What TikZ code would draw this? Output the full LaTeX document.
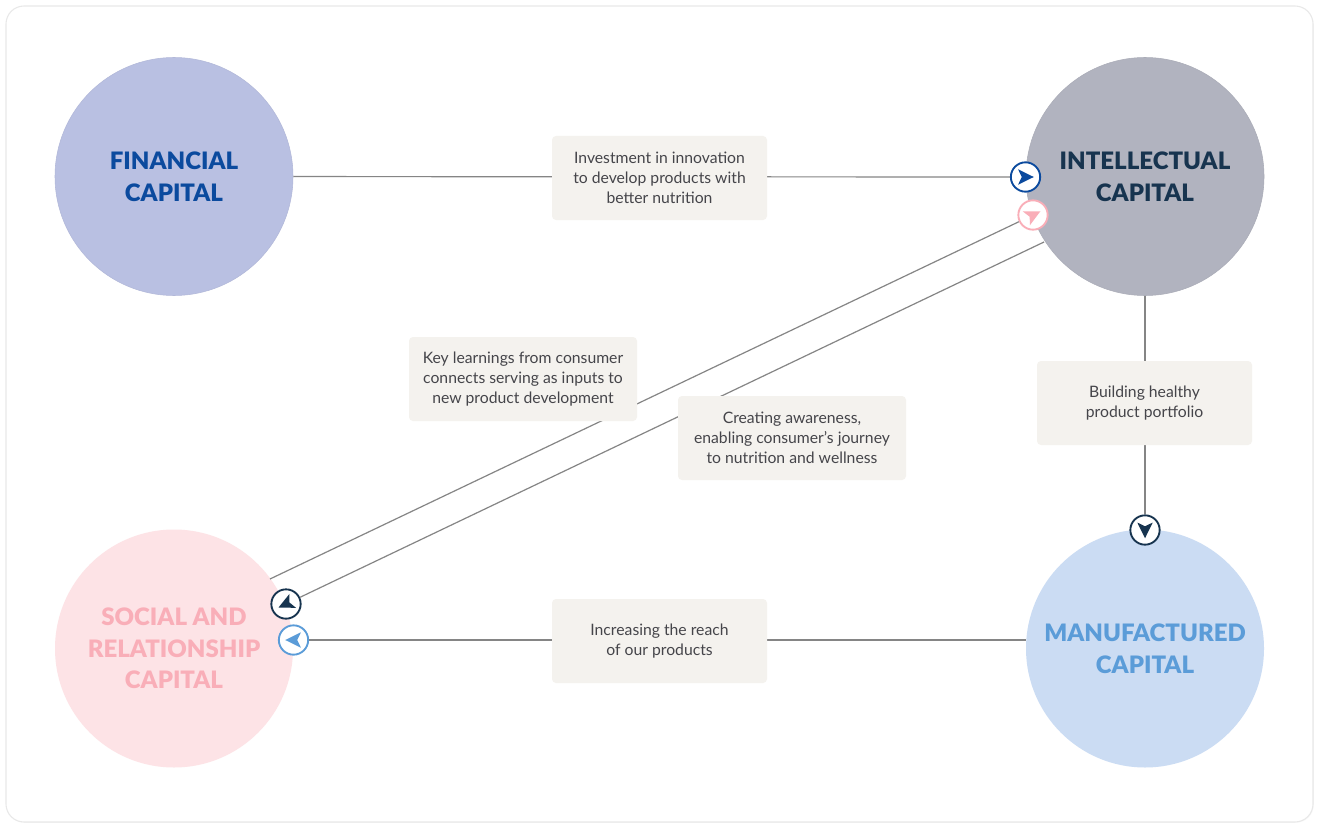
\documentclass[tikz,border=0pt]{standalone}
\usepackage{fontspec}
\setmainfont{Lato}
\newfontfamily\heavyfont{Lato Black}
\usepackage{xcolor}
\usetikzlibrary{positioning,calc,shadows}

\definecolor{finfill}{HTML}{B9C0E2}
\definecolor{fintext}{HTML}{0B4A9E}
\definecolor{intfill}{HTML}{B1B3BF}
\definecolor{inttext}{HTML}{17344F}
\definecolor{socfill}{HTML}{FDE3E6}
\definecolor{soctext}{HTML}{F9AEB8}
\definecolor{manfill}{HTML}{CBDCF3}
\definecolor{mantext}{HTML}{5B9CD8}
\definecolor{boxfill}{HTML}{F4F2EE}
\definecolor{boxtext}{HTML}{45454A}
\definecolor{linkgray}{HTML}{858585}

\tikzset{
  capital/.style={circle,minimum size=178.5pt,inner sep=0pt,align=center,
    font=\fontsize{18pt}{23.8pt}\heavyfont},
  infobox/.style={rectangle,rounded corners=3pt,fill=boxfill,text=boxtext,align=center,
    minimum height=63pt,inner sep=0pt,font=\fontsize{11.8pt}{15pt}\selectfont},
  link/.style={draw=linkgray,line width=0.9pt},
  badge/.style={circle,fill=white,draw=#1,line width=1.4pt,minimum size=22pt,inner sep=0pt}
}

% badge with the little arrow inside: name, position, colour, direction
\newcommand{\ArrowBadge}[4]{
  \node[badge=#3] (#1) at (#2) {};
  \fill[#3,rotate around={#4:(#1.center)}]
    ($(#1.center)+(6.2pt,0)$) -- ($(#1.center)+(-5.6pt,5.8pt)$)
    -- ($(#1.center)+(-2.8pt,0)$) -- ($(#1.center)+(-5.6pt,-5.8pt)$) -- cycle;
}

\begin{document}
\begin{tikzpicture}[x=0.75pt,y=-0.75pt]
  \useasboundingbox (0,0) rectangle (1324,831);
  \fill[white] (0,0) rectangle (1324,831);
  \draw[black!9,line width=0.8pt,rounded corners=13.5pt,fill=white,
        drop shadow={opacity=0.05,shadow xshift=0.6pt,shadow yshift=-0.6pt}]
    (6,6) rectangle (1313,822);

  % capitals
  \node[capital,fill=finfill,draw=finfill!96!black,text=fintext] (financial) at (174,176.5) {FINANCIAL\\CAPITAL};
  \node[capital,fill=intfill,draw=intfill!96!black,text=inttext] (intellectual) at (1145,176.5) {INTELLECTUAL\\CAPITAL};
  \node[capital,fill=socfill,text=soctext] (social) at (174,648.5) {SOCIAL AND\\RELATIONSHIP\\CAPITAL};
  \node[capital,fill=manfill,text=mantext] (manufactured) at (1145,648.5) {MANUFACTURED\\CAPITAL};

  % badges
  \ArrowBadge{badgeinv}{1025.5,177}{fintext}{0}
  \ArrowBadge{badgeaware}{1033,215}{soctext}{27}
  \ArrowBadge{badgelearn}{286,604}{inttext}{205}
  \ArrowBadge{badgereach}{293.5,640}{mantext}{180}
  \ArrowBadge{badgebuild}{1145,530}{inttext}{-90}

  % links
  \coordinate (learnend) at (270,579);
  \coordinate (awareend) at (1044,242);
  \coordinate (reachend) at (1026,640);
  \path[link] (financial) -- (badgeinv);
  \path[link] (badgeaware) -- (learnend);
  \path[link] (badgelearn) -- (awareend);
  \path[link] (intellectual) -- (badgebuild);
  \path[link] (reachend) -- (badgereach);

  % text boxes
  \node[infobox,minimum width=161.25pt] (invest) at (659.5,178) {Investment in innovation\\to develop products with\\better nutrition};
  \node[infobox,minimum width=171pt] (learn) at (523,379) {Key learnings from consumer\\connects serving as inputs to\\new product development};
  \node[infobox,minimum width=171pt] (aware) at (792,438) {Creating awareness,\\enabling consumer’s journey\\to nutrition and wellness};
  \node[infobox,minimum width=161.25pt] (build) at (1144.5,403) {Building healthy\\product portfolio};
  \node[infobox,minimum width=161.25pt] (reach) at (659.5,641) {Increasing the reach\\of our products};
\end{tikzpicture}
\end{document}
